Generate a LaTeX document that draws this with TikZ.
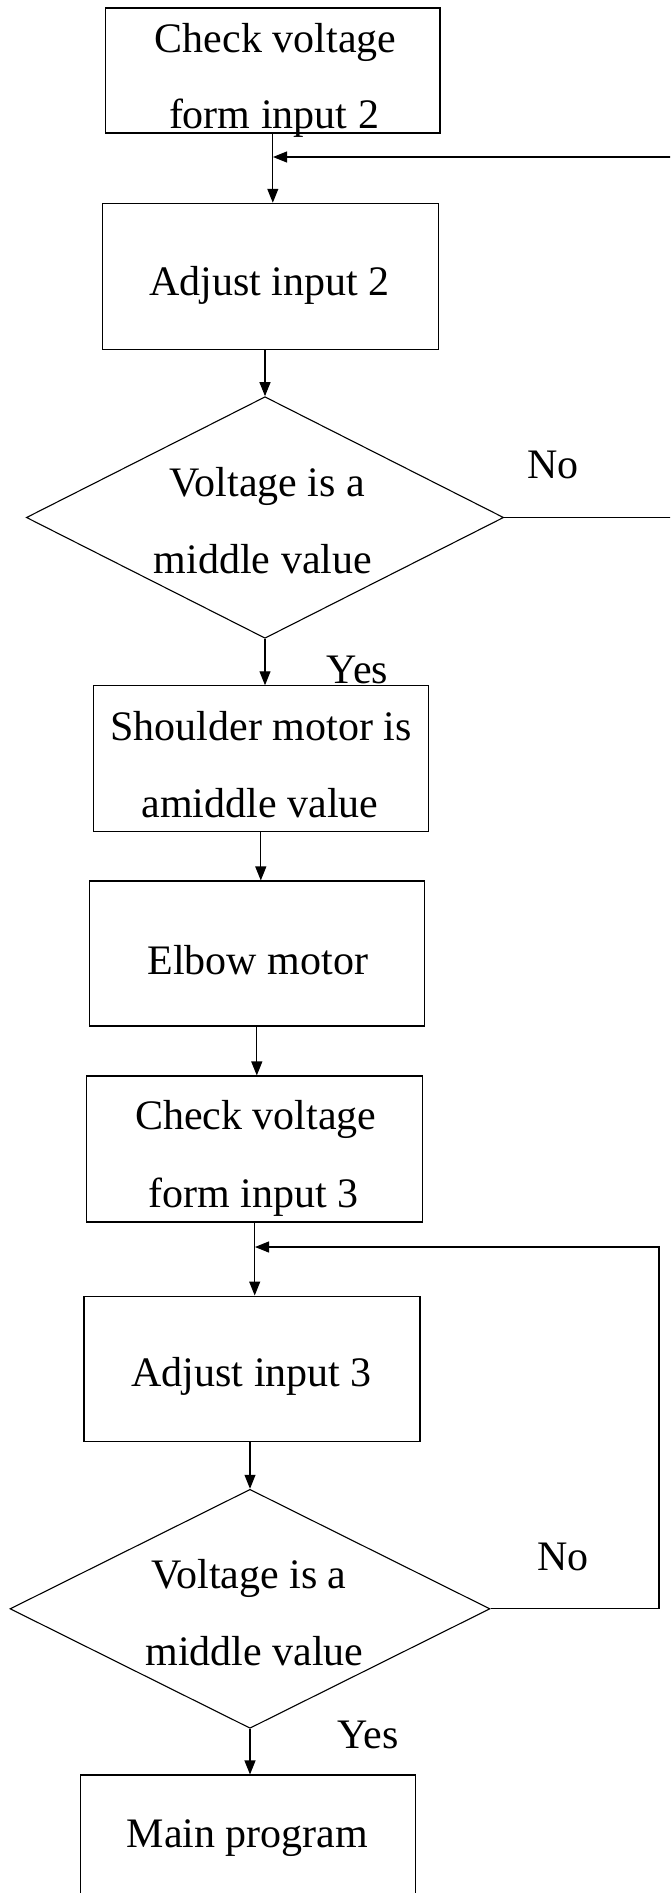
\documentclass[tikz,border=0pt]{standalone}
\usepackage{fontspec}
\setmainfont{Liberation Serif}
\usetikzlibrary{arrows.meta,shapes.geometric}
\tikzset{
  flowbox/.style={draw=black, line width=1.1pt, rectangle, inner sep=0pt},
  decide/.style={draw=black, line width=1.1pt, diamond, inner sep=0pt},
  lbl/.style={font=\fontsize{42pt}{50pt}\selectfont, anchor=base, inner sep=0pt},
  conn/.style={line width=1.1pt, -{Triangle[length=14pt,width=11pt]}},
}
\begin{document}
\begin{tikzpicture}[x=1pt,y=-1pt]
\useasboundingbox (0,0) rectangle (670,1893);
\fill[white] (0,0) rectangle (670,1893);
\clip (0,0) rectangle (670,1893);

% boxes and decisions
\node[flowbox, minimum width=334.4pt, minimum height=125pt] (b1) at (272.8,70.5) {};
\node[flowbox, minimum width=335.7pt, minimum height=146pt] (b2) at (270.5,276.3) {};
\node[decide, minimum width=477.3pt, minimum height=241.6pt] (d1) at (265,517.5) {};
\node[flowbox, minimum width=335pt, minimum height=146pt] (b3) at (260.8,758.8) {};
\node[flowbox, minimum width=335pt, minimum height=145pt] (b4) at (256.8,953.5) {};
\node[flowbox, minimum width=336pt, minimum height=146pt] (b5) at (254.7,1149) {};
\node[flowbox, minimum width=336pt, minimum height=145.7pt] (b6) at (252,1368.9) {};
\node[decide, minimum width=480pt, minimum height=239pt] (d2) at (250,1608.8) {};
\node[flowbox, minimum width=335.7pt, minimum height=180pt] (b7) at (247.9,1865) {};

% junctions and loop corners
\coordinate (j1) at (273,157);
\coordinate (j2) at (255,1247);
\coordinate (r1) at (700,520);
\coordinate (r2) at (659,1609);

% connectors
\draw[conn] (b1.south) -- (b1.south |- b2.north);
\draw[conn] (d1.north |- b2.south) -- (d1.north);
\draw[conn] (d1.south) -- (d1.south |- b3.north);
\draw[conn] (b3.south) -- (b3.south |- b4.north);
\draw[conn] (b4.south) -- (b4.south |- b5.north);
\draw[conn] (b5.south) -- (b5.south |- b6.north);
\draw[conn] (d2.north |- b6.south) -- (d2.north);
\draw[conn] (d2.south) -- (d2.south |- b7.north);
\draw[conn] (d1.east) -- (d1.east -| r1) |- (j1);
\draw[conn] (d2.east) -- (d2.east -| r2) |- (j2);

% texts
\node[lbl] (t1a) at (275.6,52) {Check voltage};
\node[lbl] (t1b) at (274,128) {form input 2};
\node[lbl] (t2) at (269.3,295) {Adjust input 2};
\node[lbl] (t3a) at (267.5,496.7) {Voltage is a};
\node[lbl] (t3b) at (263,573) {middle value};
\node[lbl] (no1) at (553.3,478.3) {No};
\node[lbl] (yes1) at (357.5,683) {Yes};
\node[lbl] (t4a) at (261,740) {Shoulder motor is};
\node[lbl] (t4b) at (260,817.6) {amiddle value};
\node[lbl] (t5) at (257.8,974) {Elbow motor};
\node[lbl] (t6a) at (255.8,1129) {Check voltage};
\node[lbl] (t6b) at (253.7,1207.3) {form input 3};
\node[lbl] (t7) at (251.7,1386.7) {Adjust input 3};
\node[lbl] (t8a) at (249,1588.3) {Voltage is a};
\node[lbl] (t8b) at (254.5,1665) {middle value};
\node[lbl] (no2) at (563.3,1570) {No};
\node[lbl] (yes2) at (368,1748) {Yes};
\node[lbl] (t9) at (247.5,1847) {Main program};
\end{tikzpicture}
\end{document}
